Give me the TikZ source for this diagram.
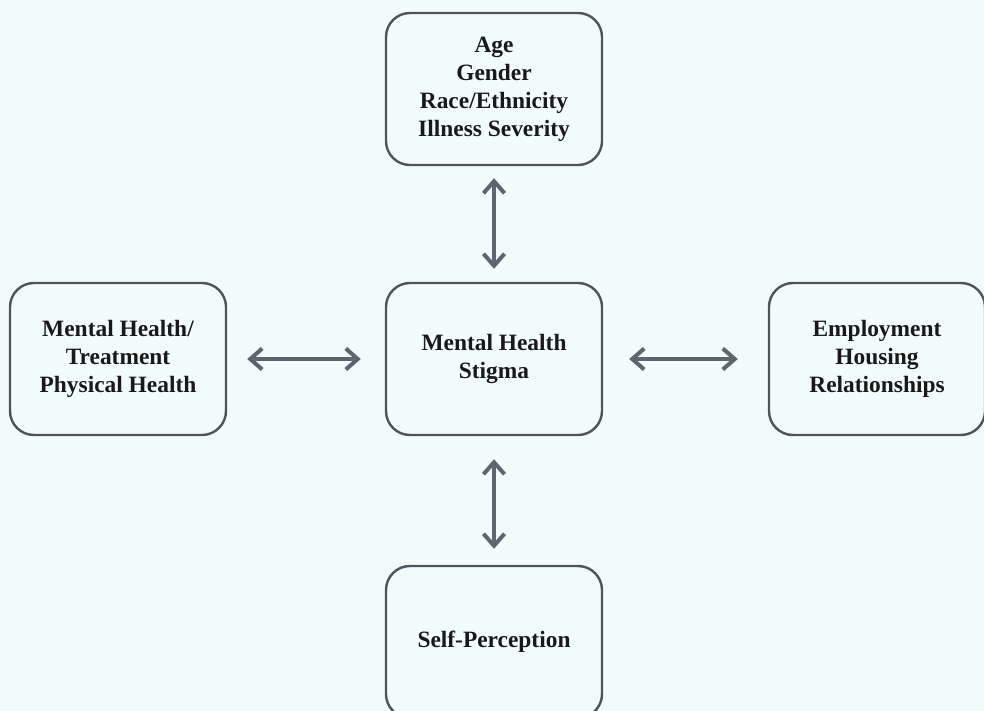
\documentclass[tikz,border=0pt]{standalone}
\usepackage{fontspec}
\setmainfont{Liberation Serif}
\usetikzlibrary{arrows.meta}
\definecolor{bgcyan}{HTML}{F3FCFD}
\definecolor{boxgrey}{HTML}{4E535C}
\definecolor{arrowgrey}{HTML}{5E6570}
\begin{document}
\begin{tikzpicture}[x=1bp,y=-1bp,
  factor/.style={rectangle,rounded corners=24bp,draw=boxgrey,line width=2.4bp,fill=bgcyan,
    minimum width=216bp,minimum height=152bp,align=center,
    font=\fontsize{23.5}{28}\selectfont\bfseries,text=black!90},
  link/.style={{Straight Barb[length=12bp,width=21bp]}-{Straight Barb[length=12bp,width=21bp]},
    draw=arrowgrey,line width=4bp}]
\fill[bgcyan] (0,0) rectangle (984,711);
\useasboundingbox (0,0) rectangle (984,711);
\clip (0,0) rectangle (984,711);

\node[factor] (demo) at (494,89) {Age\\Gender\\Race/Ethnicity\\Illness Severity};
\node[factor] (stigma) at (494,359) {Mental Health\\Stigma};
\node[factor] (health) at (118,359) {Mental Health/\\Treatment\\Physical Health};
\node[factor] (social) at (877,359) {Employment\\Housing\\Relationships};
\node[factor] (self) at (494,642) {Self-Perception};

\path [link,shorten <=12bp,shorten >=13bp] (demo) edge (stigma);
\path [link,shorten <=20bp,shorten >=24bp] (health) edge (stigma);
\path [link,shorten <=26bp,shorten >=30bp] (stigma) edge (social);
\path [link,shorten <=23bp,shorten >=16bp] (stigma) edge (self);
\end{tikzpicture}
\end{document}
